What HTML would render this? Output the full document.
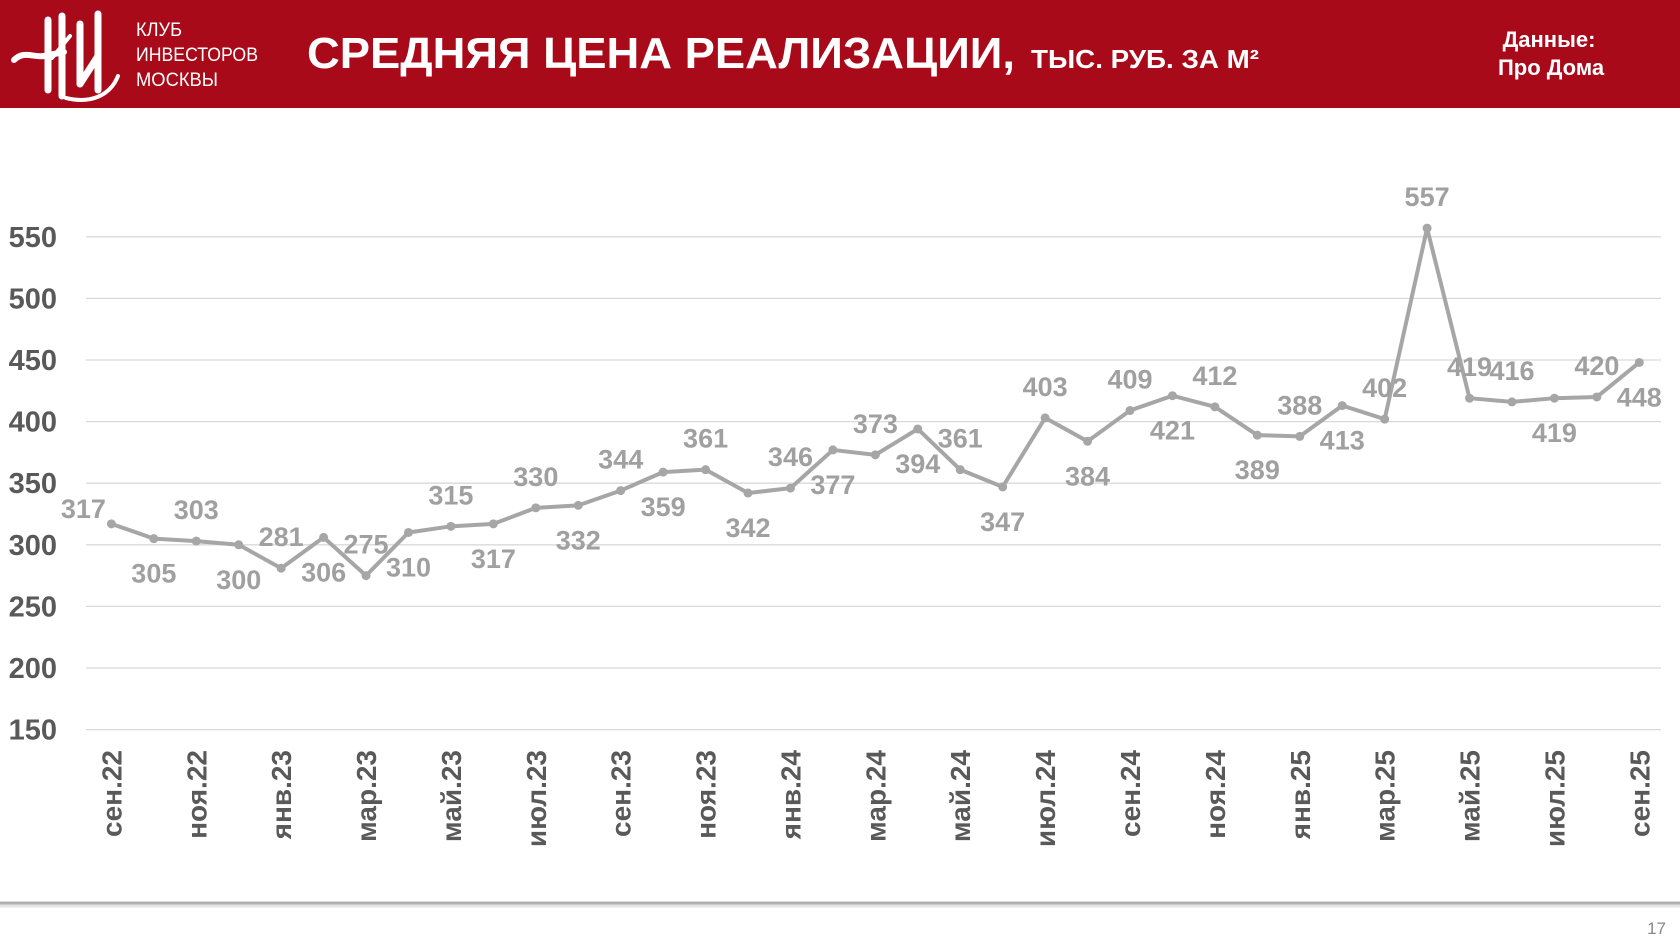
<!DOCTYPE html>
<html><head><meta charset="utf-8"><style>
body{margin:0;width:1680px;height:945px;background:#fff;overflow:hidden;font-family:"Liberation Sans",sans-serif}
svg{display:block}
</style></head><body>
<svg id="chart" width="1680" height="945">
<rect x="0" y="0" width="1680" height="108" fill="#a90a1a"/>
<g fill="none" stroke="#fff" stroke-linecap="round">
<path d="M14 60 C24 50 34 58 44 56 L64 52" stroke-width="6"/>
<path d="M48 20 L48 90 M62 16 L62 96" stroke-width="7"/>
<path d="M52 58 L70 36" stroke-width="4"/>
<path d="M80 24 L80 84 M98 14 L98 90 M80 84 L98 56" stroke-width="7"/>
<path d="M66 98 C90 104 110 96 118 76" stroke-width="4"/>
</g>
<text x="136" y="36" fill="#fff" font-size="19" font-family="Liberation Sans Narrow, Liberation Sans, sans-serif" textLength="46" lengthAdjust="spacingAndGlyphs">КЛУБ</text>
<text x="136" y="61" fill="#fff" font-size="19" textLength="122" lengthAdjust="spacingAndGlyphs">ИНВЕСТОРОВ</text>
<text x="136" y="86" fill="#fff" font-size="19" textLength="82" lengthAdjust="spacingAndGlyphs">МОСКВЫ</text>
<text x="307" y="68" fill="#fff" font-size="44" font-weight="bold" textLength="708" lengthAdjust="spacingAndGlyphs">СРЕДНЯЯ ЦЕНА РЕАЛИЗАЦИИ,</text>
<text x="1031" y="68" fill="#fff" font-size="26" font-weight="bold" textLength="228" lengthAdjust="spacingAndGlyphs">ТЫС. РУБ. ЗА М²</text>
<text x="1549" y="47" fill="#fff" font-size="22" font-weight="bold" text-anchor="middle">Данные:</text>
<text x="1551" y="75" fill="#fff" font-size="22" font-weight="bold" text-anchor="middle">Про Дома</text>
<g id="grid"></g><g id="yticks"></g><g id="xticks"></g><g id="series"></g><g id="labels"></g>
<line x1="0" y1="903" x2="1680" y2="903" stroke="#b0b0b0" stroke-width="3"/>
<line x1="0" y1="906" x2="1680" y2="906" stroke="#e4e4e4" stroke-width="3"/>
<text x="1666" y="934" fill="#888" font-size="17" text-anchor="end">17</text>
</svg>
<script>
const months = ["сен.22","окт.22","ноя.22","дек.22","янв.23","фев.23","мар.23","апр.23","май.23","июн.23","июл.23","авг.23","сен.23","окт.23","ноя.23","дек.23","янв.24","фев.24","мар.24","апр.24","май.24","июн.24","июл.24","авг.24","сен.24","окт.24","ноя.24","дек.24","янв.25","фев.25","мар.25","апр.25","май.25","июн.25","июл.25","авг.25","сен.25"];
const prices = [317,305,303,300,281,306,275,310,315,317,330,332,344,359,361,342,346,377,373,394,361,347,403,384,409,421,412,389,388,413,402,557,419,416,419,420,448];
const labelBelow = [0,1,0,1,0,1,0,1,0,1,0,1,0,1,0,1,0,1,0,1,0,1,0,1,0,1,0,1,0,1,0,0,0,0,1,0,1];
const yTicks = [150,200,250,300,350,400,450,500,550];
const NS="http://www.w3.org/2000/svg";
function yS(v){return 729.6-(v-150)*(492.8/400);}
function xS(i){return 111.4+i*(1527.9/(months.length-1));}
function mk(tag,attrs,parent){const e=document.createElementNS(NS,tag);for(const k in attrs)e.setAttribute(k,attrs[k]);document.getElementById(parent).appendChild(e);return e;}
yTicks.forEach(v=>{
  const l=mk('line',{x1:86,x2:1661,y1:yS(v),y2:yS(v),stroke:'#d9d9d9','stroke-width':1.3},'grid');
  
  
  const t=mk('text',{x:57,y:yS(v)+10,'text-anchor':'end','font-size':29,'font-weight':'bold',fill:'#595959'},'yticks');
  t.textContent=v;
  
  
});
months.forEach((m,i)=>{
  if(i%2)return;
  const x=xS(i);
  const t=mk('text',{x:0,y:0,transform:`translate(${x+10},750) rotate(-90)`,'text-anchor':'end','font-size':28,'font-weight':'bold',fill:'#595959'},'xticks');
  t.textContent=m;
  
  
});
const pts=prices.map((v,i)=>xS(i)+','+yS(v)).join(' ');
const pl=mk('polyline',{points:pts,fill:'none',stroke:'#a6a6a6','stroke-width':4,'stroke-linejoin':'round'},'series');


prices.forEach((v,i)=>{
  const c=mk('circle',{cx:xS(i),cy:yS(v),r:4.5,fill:'#a6a6a6'},'series');
  
  
  let dx=0, dy=labelBelow[i]?44:-22;
  if(i===0){dx=-28;dy=-6;}
  const t=mk('text',{x:xS(i)+dx,y:yS(v)+dy,'text-anchor':'middle','font-size':27,'font-weight':'bold',fill:'#a0a0a0'},'labels');
  t.textContent=v;
  
  
});
</script>
</body></html>
